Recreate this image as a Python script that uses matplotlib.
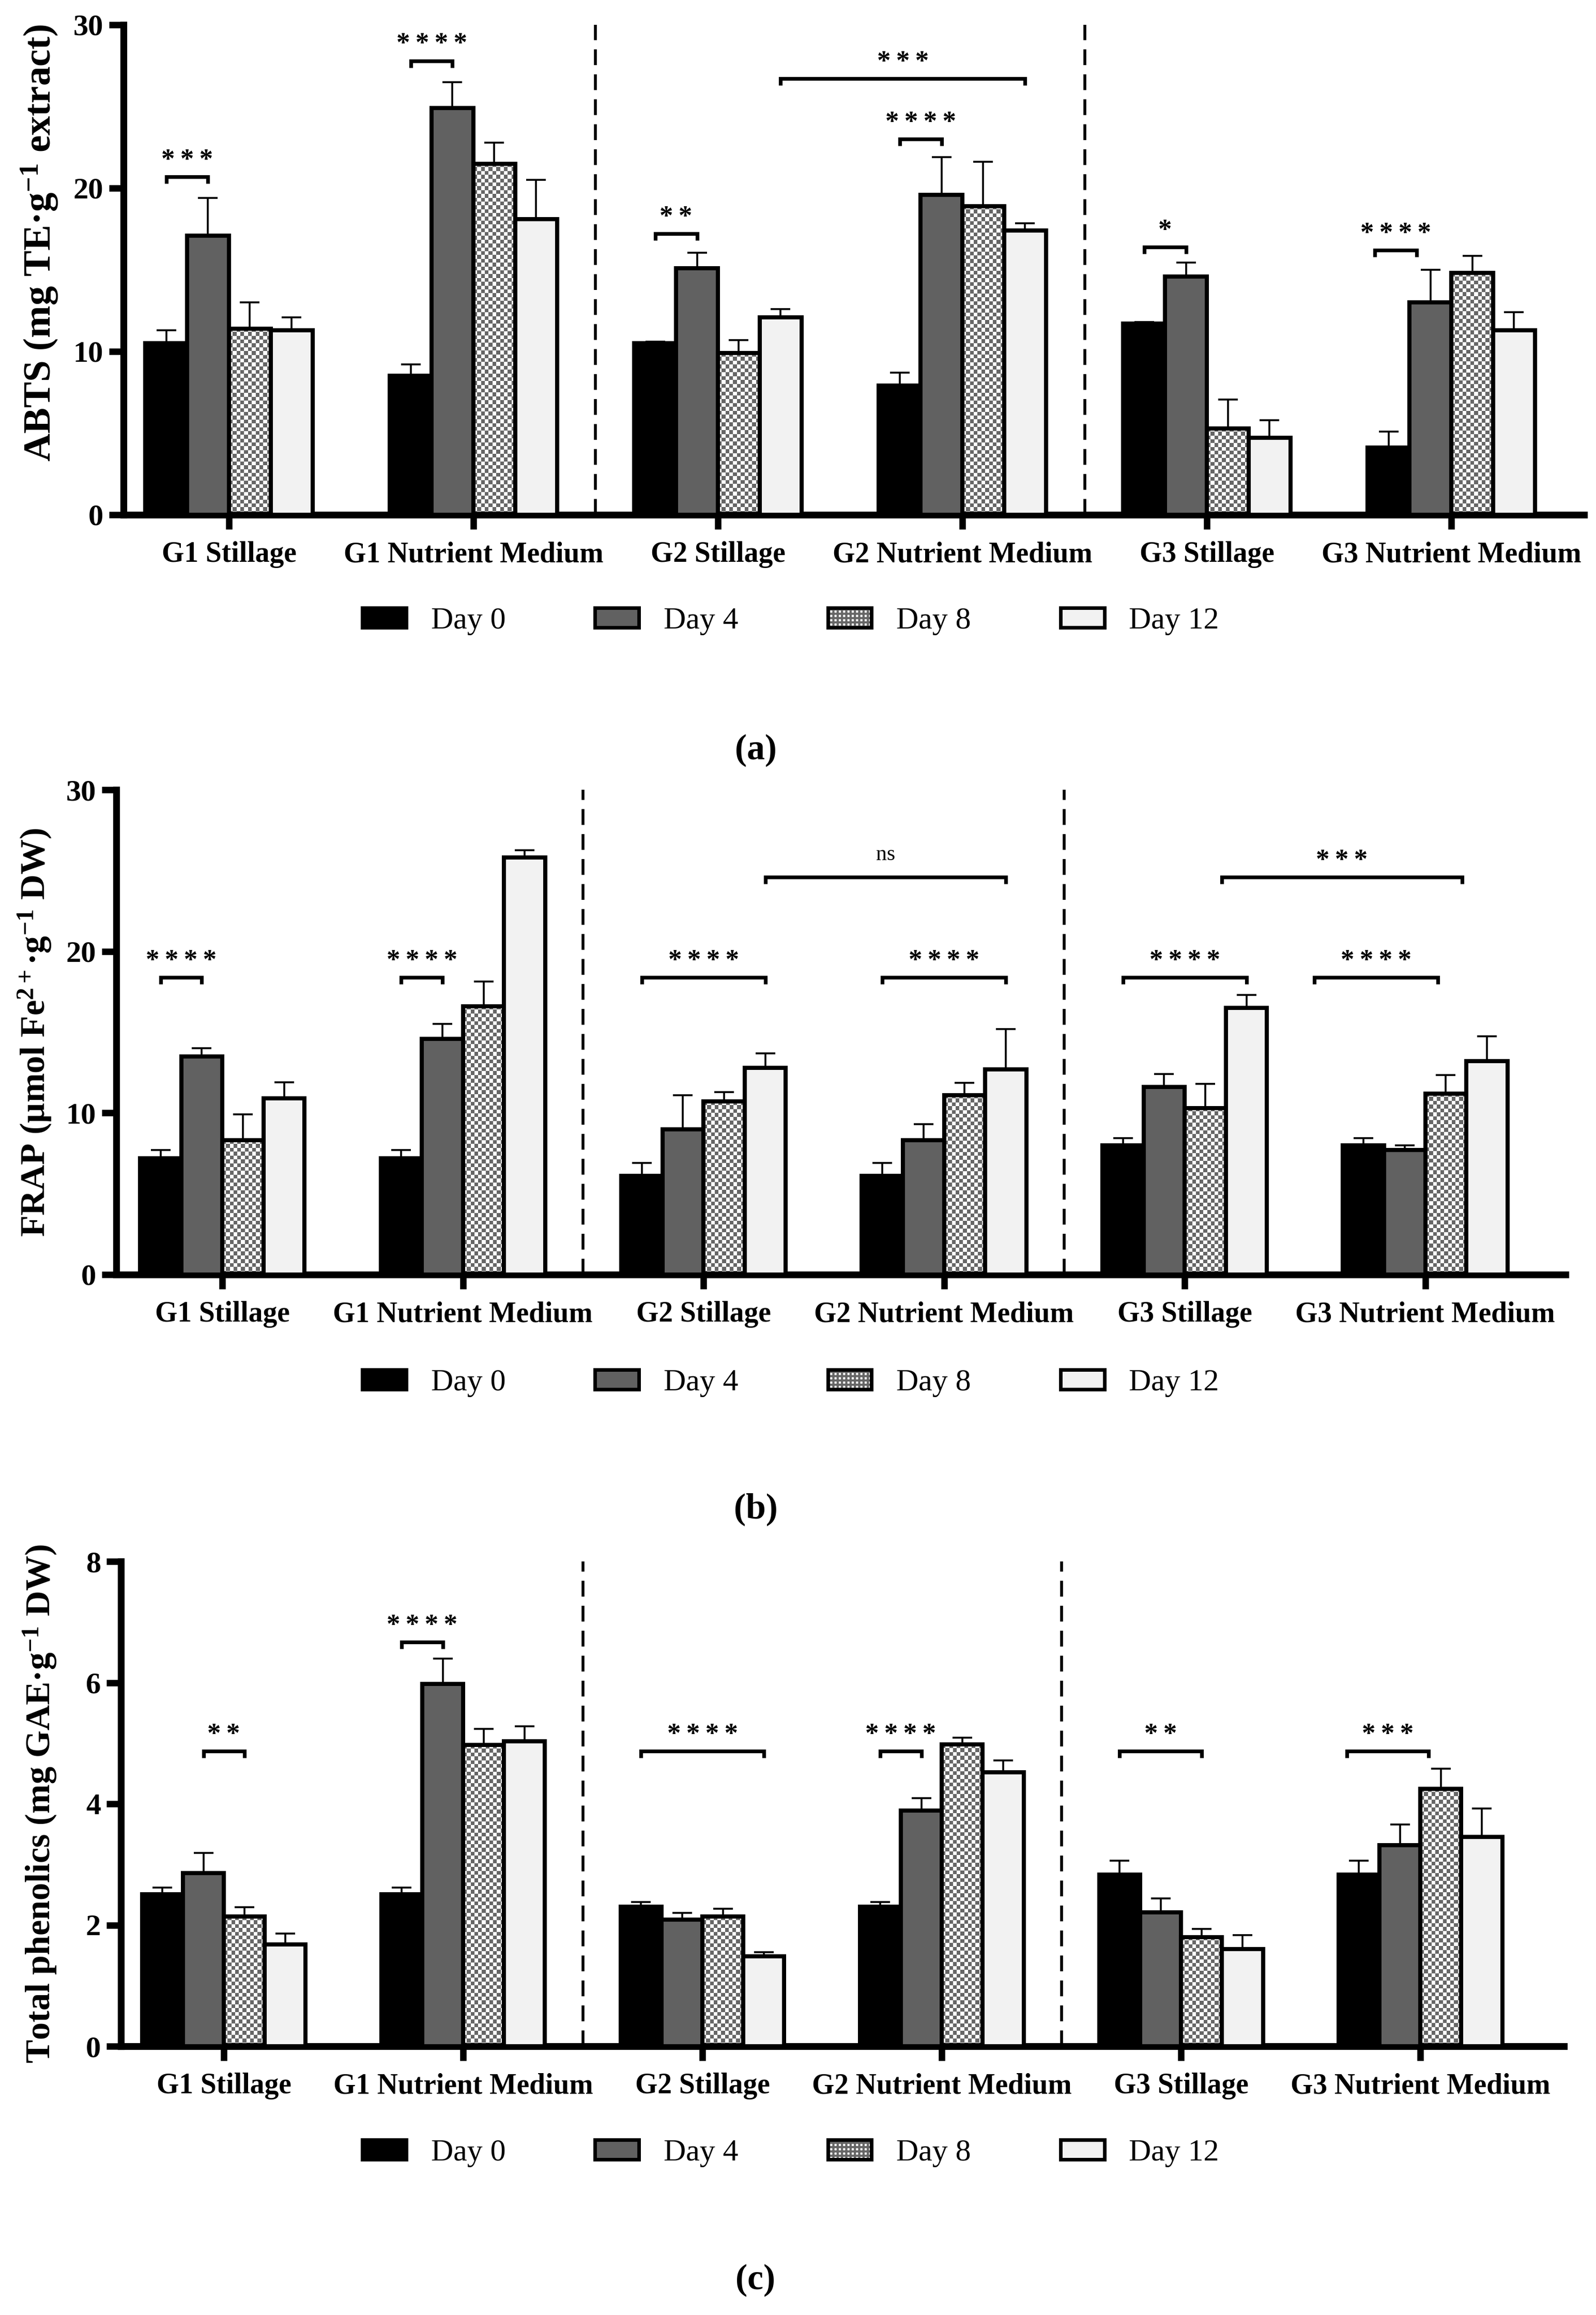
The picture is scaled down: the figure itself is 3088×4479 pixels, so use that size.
import numpy as np
import matplotlib
matplotlib.use('Agg')
import matplotlib.pyplot as plt
from matplotlib.colors import ListedColormap
from matplotlib.patches import Patch
from matplotlib.legend_handler import HandlerTuple

plt.rcParams['font.family'] = ['Liberation Serif', 'DejaVu Serif']
plt.rcParams['mathtext.fontset'] = 'custom'
plt.rcParams['mathtext.rm'] = 'Liberation Serif:bold'
plt.rcParams['mathtext.bf'] = 'Liberation Serif:bold'
plt.rcParams['mathtext.it'] = 'Liberation Serif:italic:bold'
plt.rcParams['hatch.linewidth'] = 3.0

groups = ['G1 Stillage', 'G1 Nutrient Medium', 'G2 Stillage',
          'G2 Nutrient Medium', 'G3 Stillage', 'G3 Nutrient Medium']
days = ['Day 0', 'Day 4', 'Day 8', 'Day 12']

# rows = groups, columns = days
abts_mean = [[10.5, 17.1, 11.4, 11.3],
             [8.5, 24.9, 21.5, 18.1],
             [10.5, 15.1, 9.9, 12.1],
             [7.9, 19.6, 18.9, 17.4],
             [11.7, 14.6, 5.3, 4.7],
             [4.1, 13.0, 14.8, 11.3]]
abts_sd = [[0.8, 2.3, 1.6, 0.8],
           [0.7, 1.6, 1.3, 2.4],
           [0.1, 0.95, 0.8, 0.5],
           [0.8, 2.3, 2.7, 0.45],
           [0.1, 0.85, 1.75, 1.1],
           [1.0, 2.0, 1.05, 1.1]]

frap_mean = [[7.2, 13.5, 8.3, 10.9],
             [7.2, 14.6, 16.6, 25.8],
             [6.1, 9.0, 10.7, 12.8],
             [6.1, 8.3, 11.1, 12.7],
             [8.0, 11.6, 10.3, 16.5],
             [8.0, 7.7, 11.2, 13.2]]
frap_sd = [[0.5, 0.5, 1.6, 1.0],
           [0.5, 0.9, 1.55, 0.45],
           [0.8, 2.1, 0.6, 0.9],
           [0.8, 1.0, 0.75, 2.5],
           [0.45, 0.8, 1.5, 0.8],
           [0.45, 0.3, 1.15, 1.55]]

tpc_mean = [[2.51, 2.86, 2.14, 1.68],
            [2.51, 5.98, 4.97, 5.03],
            [2.30, 2.09, 2.14, 1.48],
            [2.30, 3.89, 4.98, 4.52],
            [2.83, 2.21, 1.80, 1.60],
            [2.83, 3.32, 4.25, 3.45]]
tpc_sd = [[0.11, 0.33, 0.15, 0.18],
          [0.11, 0.42, 0.27, 0.25],
          [0.08, 0.11, 0.13, 0.07],
          [0.08, 0.20, 0.11, 0.20],
          [0.23, 0.23, 0.14, 0.23],
          [0.23, 0.34, 0.33, 0.47]]

# significance brackets: (group from, day from, group to, day to, height, label, shift in bar widths)
abts_sig = [(0, 0, 0, 1, 20.7, '***', 0),
            (1, 0, 1, 1, 27.8, '****', 0),
            (2, 0, 2, 1, 17.2, '**', 0),
            (3, 0, 3, 1, 23.0, '****', 0),
            (2, 3, 3, 3, 26.7, '***', 0),
            (4, 0, 4, 1, 16.4, '*', 0),
            (5, 0, 5, 1, 16.2, '****', -0.33)]
frap_sig = [(0, 0, 0, 1, 18.4, '****', 0),
            (1, 0, 1, 1, 18.4, '****', 0),
            (2, 0, 2, 3, 18.4, '****', 0),
            (2, 3, 3, 3, 24.6, 'ns', 0),
            (3, 0, 3, 3, 18.4, '****', 0),
            (4, 0, 4, 3, 18.4, '****', 0),
            (5, 0, 5, 3, 18.4, '****', -1.2),
            (4, 3, 5, 3, 24.6, '***', -0.6)]
tpc_sig = [(0, 1, 0, 2, 4.87, '**', 0),
           (1, 0, 1, 1, 6.67, '****', 0),
           (2, 0, 2, 3, 4.87, '****', 0),
           (3, 0, 3, 1, 4.87, '****', 0),
           (4, 0, 4, 2, 4.87, '**', 0),
           (5, 0, 5, 2, 4.87, '***', -0.3)]

W, H = 3088, 4479
fig = plt.figure(figsize=(W / 100, H / 100), dpi=100)

day_colors = ['black', '#616161', 'none', '#f2f2f2']
checker_cmap = ListedColormap(['#666666', 'white'])
bw = 0.171


def make_axes(left, right, top, bottom):
    return fig.add_axes([left / W, 1 - bottom / H, (right - left) / W, (bottom - top) / H])


def draw_panel(ax, means, sds, sig, ymax, yticks, ylabel, xlim, label_y=0.5, label_size=49):
    means = np.array(means)
    sds = np.array(sds)
    x = np.arange(len(groups))
    ax.set_xlim(*xlim)
    ax.set_ylim(0, ymax)
    bbox = ax.get_window_extent()
    px_x = bbox.width / (xlim[1] - xlim[0])
    px_y = bbox.height / ymax

    for d in range(4):
        xs = x + (d - 1.5) * bw
        ax.errorbar(xs, means[:, d], yerr=[np.zeros(len(xs)), sds[:, d]], fmt='none',
                    ecolor='black', elinewidth=2.6, capsize=14, capthick=2.6, zorder=2)
        bars = ax.bar(xs, means[:, d], width=bw, color=day_colors[d], edgecolor='black',
                      linewidth=5.8, zorder=3)
        if d == 2:
            # checkered fill for Day 8, clipped to each bar
            for p in bars:
                nx = max(1, int(round(p.get_width() * px_x / 7.4)))
                ny = max(1, int(round(p.get_height() * px_y / 7.4)))
                cells = np.add.outer(np.arange(ny), np.arange(nx)) % 2
                im = ax.imshow(cells, cmap=checker_cmap, origin='lower', aspect='auto',
                               interpolation='nearest', zorder=2.5,
                               extent=(p.get_x(), p.get_x() + p.get_width(), 0, p.get_height()))
                im.set_clip_path(p)

    ax.set_xlim(*xlim)
    ax.set_ylim(0, ymax)

    for xv in (1.5, 3.5):
        ax.axvline(xv, color='black', lw=4, ls=(0, (5.5, 3.2)), zorder=1)

    leg = 13 / px_y
    for g0, d0, g1, d1, yv, txt, shift in sig:
        xa = g0 + (d0 - 1.5 + shift) * bw
        xb = g1 + (d1 - 1.5 + shift) * bw
        ax.plot([xa, xa, xb, xb], [yv - leg, yv, yv, yv - leg], color='black', lw=5.2,
                solid_joinstyle='miter', solid_capstyle='butt', zorder=4)
        if txt == 'ns':
            ax.annotate(txt, xy=((xa + xb) / 2, yv), xytext=(0, 24), textcoords='offset points',
                        ha='center', va='baseline', fontsize=30)
        else:
            ax.annotate('\u2009'.join(txt), xy=((xa + xb) / 2, yv), xytext=(0, 13),
                        textcoords='offset points', ha='center', va='baseline', fontsize=38,
                        fontweight='bold')

    ax.set_xticks(x)
    ax.set_xticklabels(groups, fontsize=40, fontweight='bold')
    ax.set_yticks(yticks)
    ax.set_yticklabels([str(t) for t in yticks], fontsize=42, fontweight='bold')
    ax.tick_params(axis='both', length=20, width=9, color='black')
    ax.tick_params(axis='x', pad=17)
    ax.tick_params(axis='y', pad=8)
    for s in ('top', 'right'):
        ax.spines[s].set_visible(False)
    for s in ('left', 'bottom'):
        ax.spines[s].set_linewidth(9.5)
    ax.set_ylabel(ylabel, fontsize=label_size, fontweight='bold')
    ax.yaxis.set_label_coords(-0.043, label_y)


ax_a = make_axes(239, 3065, 48, 996)
draw_panel(ax_a, abts_mean, abts_sd, abts_sig, 30, [0, 10, 20, 30],
           'ABTS (mg TE\u00b7g$^{-1}$ extract)', (-0.431, 5.543), label_y=0.555, label_size=54)

ax_b = make_axes(225, 3029, 1528, 2466)
draw_panel(ax_b, frap_mean, frap_sd, frap_sig, 30, [0, 10, 20, 30],
           'FRAP (\u00b5mol Fe$^{2+}$\u00b7g$^{-1}$ DW)', (-0.441, 5.583))

ax_c = make_axes(234, 3026, 3021, 3959)
draw_panel(ax_c, tpc_mean, tpc_sd, tpc_sig, 8, [0, 2, 4, 6, 8],
           'Total phenolics (mg GAE\u00b7g$^{-1}$ DW)', (-0.43, 5.60))

handles = [Patch(facecolor='black', edgecolor='black', linewidth=5),
           Patch(facecolor='#616161', edgecolor='black', linewidth=5),
           (Patch(facecolor='white', edgecolor='#666666', hatch='++', linewidth=0),
            Patch(facecolor='none', edgecolor='black', linewidth=5)),
           Patch(facecolor='#f2f2f2', edgecolor='black', linewidth=5)]

for yc in (1202, 2676, 4166):
    fig.legend(handles, days, loc='center', bbox_to_anchor=(1530 / W, 1 - yc / H), ncol=4,
               frameon=False, prop={'family': 'Liberation Serif', 'size': 43},
               handlelength=1.42, handleheight=0.59, handletextpad=0.8, columnspacing=2.9,
               handler_map={tuple: HandlerTuple(ndivide=1, pad=0)})

for lab, yc in (('(a)', 1452), ('(b)', 2920), ('(c)', 4412)):
    fig.text(1462 / W, 1 - yc / H, lab, ha='center', va='center', fontsize=50, fontweight='bold')

fig.savefig('out.png', dpi=100, facecolor='white')
